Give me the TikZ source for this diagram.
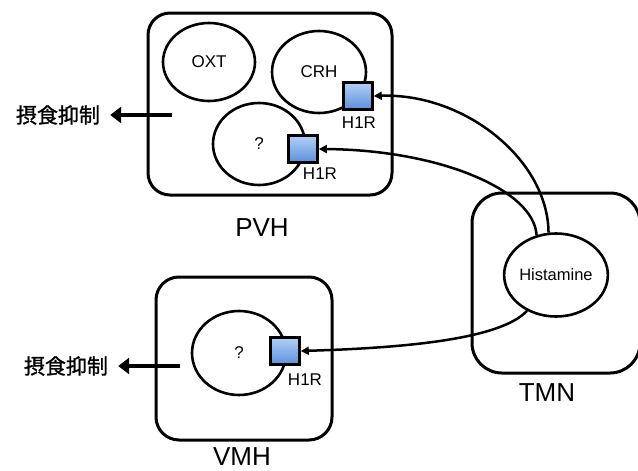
\documentclass[tikz,border=0pt]{standalone}
\usepackage{fontspec}
\setmainfont{Liberation Sans}
\newfontfamily\cjk[FakeBold=1.2]{Noto Sans CJK JP}
\usetikzlibrary{shapes.geometric,arrows.meta}
\definecolor{rtop}{HTML}{B2D0F6}
\definecolor{rbot}{HTML}{5B90DC}
\tikzset{
  region/.style={draw, line width=3pt, rounded corners=#1, inner sep=0pt},
  cell/.style={draw, ellipse, line width=2.6pt, fill=white, inner sep=0pt, font=\fontsize{17}{17}\selectfont},
  rcpt/.style={draw, line width=2.6pt, top color=rtop, bottom color=rbot, minimum width=29pt, minimum height=27pt, inner sep=0pt},
  lbl/.style={font=\fontsize{17}{17}\selectfont, inner sep=0pt},
  big/.style={font=\fontsize{26}{26}\selectfont, inner sep=0pt},
  jp/.style={font=\cjk\fontsize{21}{21}\selectfont, inner xsep=10pt, inner ysep=0pt},
  conn/.style={line width=2.5pt, -{Triangle[length=8pt,width=8pt]}},
  eat/.style={line width=4pt, -{Triangle[length=11pt,width=16pt]}},
}
\begin{document}
\begin{tikzpicture}[x=1pt,y=-1pt]
\useasboundingbox (0,0) rectangle (638,471);
% regions
\node[region=22pt, minimum width=244pt, minimum height=182pt] (pvh) at (270,104) {};
\node[region=30pt, minimum width=168pt, minimum height=180pt] (tmn) at (556,283) {};
\node[region=23pt, minimum width=176pt, minimum height=163pt] (vmh) at (244,358.5) {};
% region labels
\node[big] (pvhl) at (262,228) {PVH};
\node[big] (tmnl) at (547,393) {TMN};
\node[big] (vmhl) at (242,457) {VMH};
% cells
\node[cell, minimum width=92pt, minimum height=78pt] (oxt) at (209,62) {OXT};
\node[cell, minimum width=94pt, minimum height=82pt] (crh) at (319,72) {CRH};
\node[cell, minimum width=92pt, minimum height=82pt] (pq) at (259,144) {?};
\node[cell, minimum width=94pt, minimum height=84pt] (vq) at (239,353) {?};
\node[cell, minimum width=94pt, minimum height=83pt, font=\fontsize{16.5}{16.5}\selectfont] (hist) at (556,275) {Histamine};
% receptors
\node[rcpt] (crhr) at (358,96) {};
\node[rcpt] (pqr) at (303,149) {};
\node[rcpt] (vqr) at (285,351) {};
\node[lbl] (crhrl) at (359,123) {H1R};
\node[lbl] (pqrl) at (320,174) {H1R};
\node[lbl] (vqrl) at (305,380) {H1R};
% projections
\draw[conn] (hist.100) .. controls (548,160) and (465,93) .. (crhr.east);
\draw[conn] (hist.116) .. controls (534,190) and (440,150) .. (pqr.east);
\draw[conn] (hist.231) .. controls (500,340) and (400,348) .. (vqr.east);
% outputs
\node[jp] (eat1) at (58,115) {摂食抑制};
\node[jp] (eat2) at (66,366) {摂食抑制};
\coordinate (o1) at (172,115);
\coordinate (o2) at (180,366);
\draw[eat] (o1) -- (eat1.east);
\draw[eat] (o2) -- (eat2.east);
\end{tikzpicture}
\end{document}
